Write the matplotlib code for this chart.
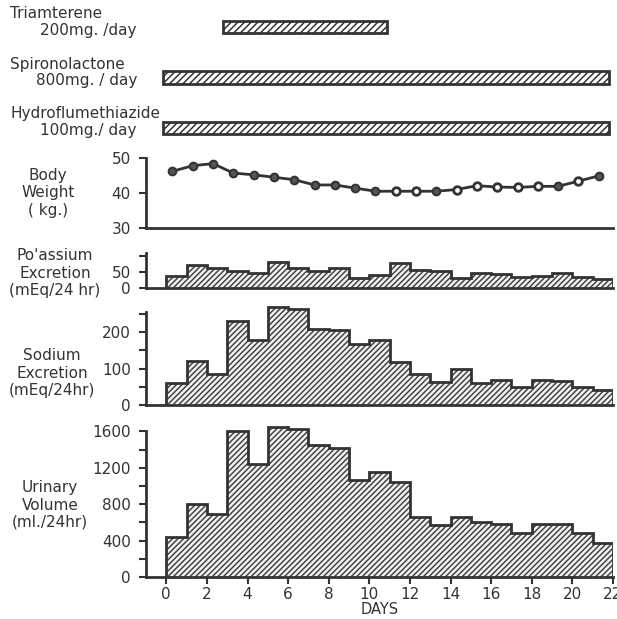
import numpy as np
import matplotlib
matplotlib.use("Agg")
import matplotlib.pyplot as plt

# data
days = np.arange(0, 23)          # day edges 0..22
weight_days = np.arange(0, 22)
body_weight = [46.2, 47.8, 48.4, 45.7, 45.2, 44.5, 43.8, 42.3, 42.3, 41.4, 40.5,
               40.5, 40.5, 40.5, 41.0, 42.1, 41.7, 41.6, 41.9, 41.9, 43.4, 44.9]
weight_open = [False] * 11 + [True, True, False, True, True, True, True, True, False, True, False]

potassium = [39, 72, 62, 55, 47, 83, 62, 53, 62, 33, 40,
             78, 58, 52, 31, 48, 43, 34, 37, 47, 34, 27]
sodium = [60, 120, 86, 230, 180, 270, 263, 210, 205, 168, 178,
          118, 84, 63, 100, 60, 69, 50, 70, 65, 50, 40]
urine = [440, 800, 690, 1605, 1240, 1650, 1630, 1445, 1420, 1060, 1150,
         1040, 660, 570, 660, 600, 580, 480, 580, 580, 480, 370]

drugs = ["Triamterene", "Spironolactone", "Hydroflumethiazide"]
doses = ["200mg. /day", "800mg. / day", "100mg./ day"]
drug_start = [2.8, -0.15, -0.15]
drug_end = [10.85, 21.8, 21.8]

INK = "#333333"
W, H = 617, 619
plt.rcParams["font.family"] = "DejaVu Sans"
plt.rcParams["hatch.linewidth"] = 1.1
plt.rcParams["font.size"] = 10.5
plt.rcParams["text.color"] = INK

fig = plt.figure(figsize=(W / 100, H / 100), dpi=100)


def add_axes(top_px, bottom_px):
    left, right = 146, 613
    return fig.add_axes([left / W, 1 - bottom_px / H, (right - left) / W, (bottom_px - top_px) / H])


def style(ax, ylim, ticks, labels, bound_top):
    ax.set_xlim(-1, 22)
    ax.set_ylim(*ylim)
    for s in ["top", "right"]:
        ax.spines[s].set_visible(False)
    for s in ["left", "bottom"]:
        ax.spines[s].set_linewidth(2)
        ax.spines[s].set_color(INK)
    ax.spines["left"].set_bounds(ylim[0], bound_top)
    ax.set_yticks(ticks)
    ax.set_yticklabels(labels)
    ax.tick_params(axis="y", direction="out", length=5, width=1.5, color=INK,
                   labelcolor=INK, labelsize=11, pad=6)
    ax.set_xticks([])


def hist(ax, vals):
    ax.stairs(vals, days, baseline=0, fill=True, facecolor="#f4f4f4",
              edgecolor="#444444", hatch="//////", linewidth=0)
    ax.stairs(vals, days, baseline=0, fill=False, color=INK, linewidth=2)


# drug bars
axd = add_axes(10, 140)
axd.set_xlim(-1, 22)
axd.set_ylim(2.24, -0.34)
axd.axis("off")
for i in range(3):
    axd.barh(i, drug_end[i] - drug_start[i], left=drug_start[i], height=0.24,
             facecolor="white", edgecolor=INK, hatch="/////", linewidth=2)

label_y = [(13, 30), (64, 80), (114, 130)]
for i in range(3):
    fig.text(10 / W, 1 - label_y[i][0] / H, drugs[i], ha="left", va="center", fontsize=11)
    fig.text(137 / W, 1 - label_y[i][1] / H, doses[i], ha="right", va="center", fontsize=11)

# body weight
axw = add_axes(158, 228)
style(axw, (30, 50), [30, 40, 50], ["30", "40", "50"], 50)
wx = weight_days + 0.3
bw = np.array(body_weight)
op = np.array(weight_open)
axw.plot(wx, bw, color=INK, linewidth=2, zorder=2)
axw.scatter(wx[~op], bw[~op], s=30, facecolor="#555555", edgecolor=INK, linewidth=1.5, zorder=3)
axw.scatter(wx[op], bw[op], s=30, facecolor="white", edgecolor=INK, linewidth=2, zorder=3)

# potassium
axk = add_axes(253, 288)
style(axk, (0, 110), [0, 50, 100], ["0", "50", ""], 110)
hist(axk, potassium)

# sodium
axn = add_axes(305, 405)
style(axn, (0, 275), [0, 50, 100, 150, 200, 250], ["0", "", "100", "", "200", ""], 255)
hist(axn, sodium)

# urinary volume
axu = add_axes(424, 577)
style(axu, (0, 1680), np.arange(0, 1601, 200),
      ["0", "", "400", "", "800", "", "1200", "", "1600"], 1600)
hist(axu, urine)
axu.set_xticks(np.arange(0, 23, 2))
axu.set_xticklabels([str(d) for d in range(0, 23, 2)])
axu.tick_params(axis="x", direction="out", length=5, width=1.5, color=INK,
                labelcolor=INK, labelsize=11, pad=2)
axu.set_xlabel("DAYS", fontsize=10.5, labelpad=0, color=INK)

# panel labels
panel_labels = [("Body\nWeight\n( kg.)", 48, 193),
                ("Po'assium\nExcretion\n(mEq/24 hr)", 55, 273),
                ("Sodium\nExcretion\n(mEq/24hr)", 52, 373),
                ("Urinary\nVolume\n(ml./24hr)", 50, 505)]
for txt, x, y in panel_labels:
    fig.text(x / W, 1 - y / H, txt, ha="center", va="center", fontsize=11,
             linespacing=1.2)

fig.savefig("out.png", dpi=100)
